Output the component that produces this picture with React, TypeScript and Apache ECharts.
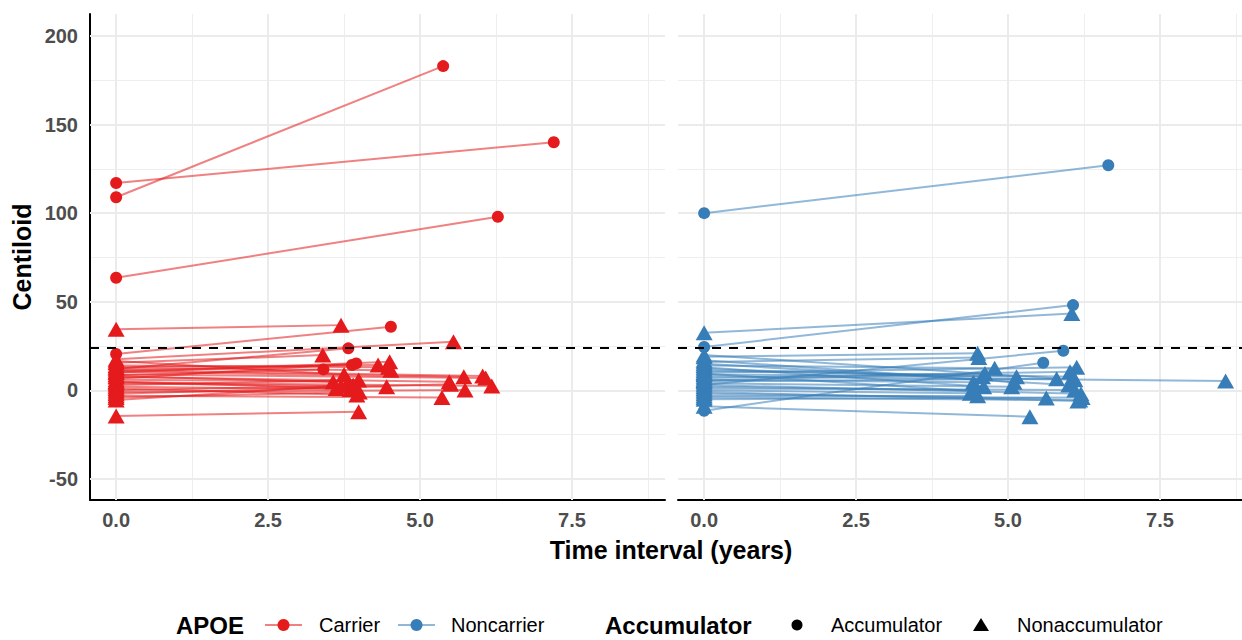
import React, { useEffect, useRef } from "react";
import * as echarts from "echarts";

// ---- axis ticks ----
const X_TICKS = [0, 2.5, 5, 7.5];
const X_MINOR = [1.25, 3.75, 6.25, 8.75];
const Y_TICKS = [-50, 0, 50, 100, 150, 200];
const Y_MINOR = [-25, 25, 75, 125, 175];
const X_MIN = -0.43;
const X_MAX_LEFT = 9.03;
const X_MAX_RIGHT = 8.85; // right facet is cropped at the picture edge
const Y_MIN = -61.9;
const Y_MAX = 212.4;
const THRESHOLD = 24;

// ---- APOE Carrier panel (baseline at t=0, follow-up at time t) ----
const carrierStart = [117, 109, 63.5, 34.5, 20.5, 17.5, 12, 15.5, 8.5, 11, 6.5, 13, 10, 12.5, 8, 5, 6, 3, 1, 4, -14.5, 2, 7.5, -3, 10.5, -1, 11.5, 4.5, 9, -5.5, 0, 14, -4, 16.5, -2];
const carrierTime = [7.2, 5.38, 6.28, 3.7, 4.52, 5.55, 3.82, 3.4, 3.41, 3.88, 3.95, 4.31, 4.5, 4.52, 3.57, 3.62, 3.82, 3.99, 3.96, 4.45, 3.99, 3.85, 5.48, 5.36, 5.72, 5.74, 6.03, 6.18, 6.08, 3.9, 3.7, 4.48, 4.0, 3.75, 5.5];
const carrierEnd = [140, 183, 98, 36.8, 35.9, 27.4, 23.7, 19.9, 11.8, 14.3, 15.2, 14.3, 16.1, 11.4, 4.9, 1.1, 4.9, 5.8, -2.6, 2.0, -12.1, 0.5, 4.9, -4, 7.7, 0.2, 8.1, 2.4, 7, 3, 2.5, 13, -1, 9, 3.5];
const carrierStatus = ["A", "A", "A", "N", "A", "N", "A", "N", "A", "A", "A", "N", "N", "N", "N", "N", "N", "N", "N", "N", "N", "N", "N", "N", "N", "N", "N", "N", "N", "N", "N", "N", "N", "N", "N"];

// ---- APOE Noncarrier panel ----
const nonStart = [100, 32.5, 24.5, 19, 16, 3, -11.5, 14, 10, 9, 5, 8, 12, 6, 2, 4, 11, 1, -4, -2, -9, 0, 7, 3, -1, 13, 17, -3, 15, 5.5, 20, -5, 9.5];
const nonTime = [6.65, 6.05, 6.07, 4.5, 4.52, 5.91, 5.58, 4.78, 6.13, 5.14, 5.8, 8.58, 4.58, 4.43, 4.43, 5.06, 6.07, 6.1, 6.18, 5.63, 5.36, 4.38, 6.02, 6.2, 6.15, 4.6, 5.1, 4.5, 6.0, 4.62, 6.1, 6.22, 4.45];
const nonEnd = [127, 43.3, 48.1, 20.9, 18.5, 22.3, 15.6, 12.4, 13, 7.7, 6.5, 5.2, 7.7, 4.5, 0.2, 2.0, 7.7, 0.2, -5.5, -4.4, -14.9, -1.7, 10.5, -2, -6, 2, 4.5, -3, 3, 9.5, 6, -4, -0.5];
const nonStatus = ["A", "N", "A", "N", "N", "A", "A", "N", "N", "N", "N", "N", "N", "N", "N", "N", "N", "N", "N", "N", "N", "N", "N", "N", "N", "N", "N", "N", "N", "N", "N", "N", "N"];

const RED = "#E41A1C";
const BLUE = "#377EB8";
const FONT = "'Liberation Sans', Arial, sans-serif";

function panelSeries(idx: number, xMax: number, start: number[], time: number[], end: number[], status: string[], color: string) {
  const lines = start.map((s, i) => ({ coords: [[0, s], [time[i], end[i]]] }));
  const circles: number[][] = [];
  const tris: number[][] = [];
  start.forEach((s, i) => {
    const target = status[i] === "A" ? circles : tris;
    target.push([0, s]);
    target.push([time[i], end[i]]);
  });
  const gridMajor = [
    ...X_TICKS.map((x) => ({ coords: [[x, Y_MIN], [x, Y_MAX]] })),
    ...Y_TICKS.map((y) => ({ coords: [[X_MIN, y], [xMax, y]] })),
  ];
  const gridMinor = [
    ...X_MINOR.map((x) => ({ coords: [[x, Y_MIN], [x, Y_MAX]] })),
    ...Y_MINOR.map((y) => ({ coords: [[X_MIN, y], [xMax, y]] })),
  ];
  const common = { xAxisIndex: idx, yAxisIndex: idx, coordinateSystem: "cartesian2d", silent: true };
  return [
    { ...common, type: "lines", z: 0, data: gridMinor, lineStyle: { color: "#EEEEEE", width: 1, opacity: 1 } },
    { ...common, type: "lines", z: 1, data: gridMajor, lineStyle: { color: "#EBEBEB", width: 2, opacity: 1 } },
    { ...common, type: "lines", z: 2, data: lines, lineStyle: { color, width: 2, opacity: 0.55 } },
    { ...common, type: "scatter", z: 3, symbol: "circle", symbolSize: 12, data: circles, itemStyle: { color, opacity: 1 } },
    { ...common, type: "scatter", z: 3, symbol: "triangle", symbolSize: [17, 15], data: tris, itemStyle: { color, opacity: 1 } },
    {
      ...common,
      type: "lines",
      z: 4,
      data: [{ coords: [[X_MIN, THRESHOLD], [xMax, THRESHOLD]] }],
      lineStyle: { color: "#000", width: 2, type: [9, 8], opacity: 1 },
    },
  ];
}

export default function App() {
  const ref = useRef<HTMLDivElement>(null);
  useEffect(() => {
    if (!ref.current) return;
    const chart = echarts.init(ref.current, undefined, { renderer: "svg" });
    const labelStyle = { color: "#4D4D4D", fontSize: 20, fontWeight: "bold", fontFamily: FONT };
    const xAxisBase = (gi: number, xMax: number) => ({
      type: "value",
      gridIndex: gi,
      min: X_MIN,
      max: xMax,
      axisLine: { show: true, onZero: false, lineStyle: { color: "#000", width: 2 } },
      axisTick: { show: false },
      splitLine: { show: false },
      axisLabel: { ...labelStyle, margin: 10, customValues: X_TICKS, formatter: (v: number) => v.toFixed(1) },
    });
    const yAxisBase = (gi: number, show: boolean) => ({
      type: "value",
      gridIndex: gi,
      min: Y_MIN,
      max: Y_MAX,
      axisLine: { show, onZero: false, lineStyle: { color: "#000", width: 2 } },
      axisTick: { show: false },
      splitLine: { show: false },
      axisLabel: show ? { ...labelStyle, margin: 12, customValues: Y_TICKS, formatter: (v: number) => String(v) } : { show: false },
    });
    const legendY = 625;
    chart.setOption({
      animation: false,
      backgroundColor: "#fff",
      grid: [
        { left: 90, top: 14, width: 575, height: 486 },
        { left: 678, top: 14, width: 564, height: 486 },
      ],
      xAxis: [xAxisBase(0, X_MAX_LEFT), xAxisBase(1, X_MAX_RIGHT)],
      yAxis: [yAxisBase(0, true), yAxisBase(1, false)],
      series: [
        ...panelSeries(0, X_MAX_LEFT, carrierStart, carrierTime, carrierEnd, carrierStatus, RED),
        ...panelSeries(1, X_MAX_RIGHT, nonStart, nonTime, nonEnd, nonStatus, BLUE),
      ],
      graphic: [
        {
          type: "text",
          x: 22,
          y: 257,
          rotation: Math.PI / 2,
          style: { text: "Centiloid", font: `bold 25px ${FONT}`, fill: "#000", align: "center", verticalAlign: "middle" },
        },
        {
          type: "text",
          x: 671,
          y: 550,
          style: { text: "Time interval (years)", font: `bold 25px ${FONT}`, fill: "#000", align: "center", verticalAlign: "middle" },
        },
        { type: "text", x: 176, y: legendY, style: { text: "APOE", font: `bold 24px ${FONT}`, fill: "#000", align: "left", verticalAlign: "middle" } },
        { type: "line", shape: { x1: 265, y1: legendY, x2: 302, y2: legendY }, style: { stroke: RED, lineWidth: 2, opacity: 0.55 } },
        { type: "circle", shape: { cx: 283.5, cy: legendY, r: 6 }, style: { fill: RED } },
        { type: "text", x: 319, y: legendY, style: { text: "Carrier", font: `20px ${FONT}`, fill: "#000", align: "left", verticalAlign: "middle" } },
        { type: "line", shape: { x1: 398, y1: legendY, x2: 435, y2: legendY }, style: { stroke: BLUE, lineWidth: 2, opacity: 0.55 } },
        { type: "circle", shape: { cx: 416.5, cy: legendY, r: 6 }, style: { fill: BLUE } },
        { type: "text", x: 451, y: legendY, style: { text: "Noncarrier", font: `20px ${FONT}`, fill: "#000", align: "left", verticalAlign: "middle" } },
        { type: "text", x: 605, y: legendY, style: { text: "Accumulator", font: `bold 24px ${FONT}`, fill: "#000", align: "left", verticalAlign: "middle" } },
        { type: "circle", shape: { cx: 797, cy: legendY, r: 5.5 }, style: { fill: "#000" } },
        { type: "text", x: 831, y: legendY, style: { text: "Accumulator", font: `20px ${FONT}`, fill: "#000", align: "left", verticalAlign: "middle" } },
        { type: "polygon", shape: { points: [[981, legendY - 7], [989, legendY + 6], [973, legendY + 6]] }, style: { fill: "#000" } },
        { type: "text", x: 1017, y: legendY, style: { text: "Nonaccumulator", font: `20px ${FONT}`, fill: "#000", align: "left", verticalAlign: "middle" } },
      ],
    });
    return () => chart.dispose();
  }, []);
  return (
    <div
      ref={ref}
      style={{ position: "fixed", left: 0, top: 0, width: 1242, height: 640, overflow: "hidden", background: "#fff" }}
    />
  );
}
